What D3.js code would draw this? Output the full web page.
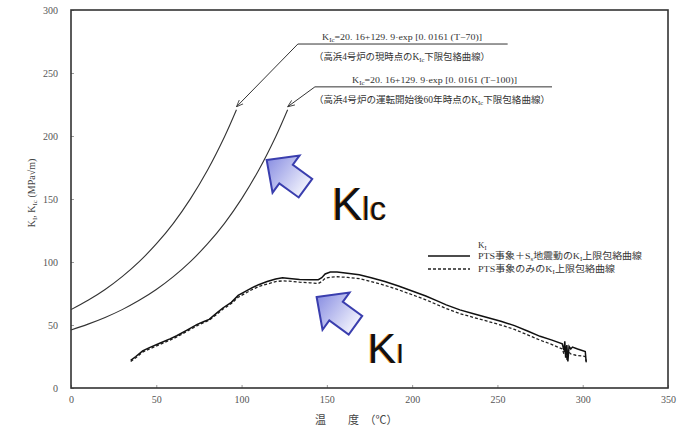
<!DOCTYPE html>
<html><head><meta charset="utf-8">
<script src="https://cdn.jsdelivr.net/npm/d3@7"></script>
<style>body{margin:0;background:#fff}</style>
</head><body>
<svg id="c" width="682" height="426"></svg>
<script>
// ---------- data ----------
const xTicks = [0, 50, 100, 150, 200, 250, 300, 350];
const yTicks = [0, 50, 100, 150, 200, 250, 300];
// KIc lower bound envelope, current (T-70)
const kicNow = [[0,62.2],[10,69.6],[20,78.2],[30,88.4],[40,100.3],[50,114.3],[60,130.7],[70,150.1],[80,172.8],[90,199.4],[97,220.8]];
// KIc lower bound envelope, 60 years (T-100)
const kic60 = [[0,46.1],[10,50.7],[20,56.0],[30,62.2],[40,69.6],[50,78.2],[60,88.4],[70,100.3],[80,114.3],[90,130.7],[100,150.1],[110,172.8],[120,199.4],[127,220.8]];
// KI upper envelope, PTS + Ss
const kiPtsSs = [[35,22],[38,25],[42,29.5],[46,32],[52,35.5],[58,39],[62,41.5],[68,46],[74,50.5],[78,52.8],[81,54.5],[85,59],[89,63.5],[94,68],[98,73.5],[102,76.5],[106,79.5],[110,82],[115,84.5],[120,86.5],[124,87.5],[128,87],[134,86.2],[140,86],[145,86],[147,87.5],[149,90.5],[152,92],[156,92],[162,91],[169,89.8],[176,87.5],[184,84.5],[192,81],[200,77],[208,73],[214,69.5],[220,66],[228,62],[236,59],[244,56],[252,53],[260,49.5],[268,45],[275,41],[282,38],[288,35],[289,30],[289.5,37],[290,24],[290.7,34],[291.3,21],[292,33],[293,31],[294,32.5],[297,31],[301.5,29],[302,21]];
// KI upper envelope, PTS only
const kiPts = [[35,21],[38,24],[42,28.5],[46,31],[52,34.5],[58,38],[62,40.5],[68,45],[74,49.5],[78,52],[81,53.8],[85,58],[89,62.5],[94,67],[98,72],[102,75],[106,78],[110,80.5],[115,82.5],[120,84.5],[124,85],[128,84.8],[134,84],[140,83.5],[145,83],[147,84.5],[149,87],[152,88],[156,88.3],[162,87.8],[169,86.8],[176,84.5],[184,81.5],[192,78],[200,74],[208,70],[214,66.5],[220,63],[228,59],[236,56],[244,53],[252,50],[260,46.5],[268,42],[275,38],[282,34.5],[288,31],[289,27],[290,33],[290.7,22],[291.5,29],[293,27],[296,26],[301.5,25],[302.3,19]];

const formulaNow = [{t:"K"},{t:"Ic",sub:true},{t:"=20. 16+129. 9·exp [0. 0161 (T−70)]"}];
const captionNow = [{t:"（高浜4号炉の現時点のK"},{t:"Ic",sub:true},{t:"下限包絡曲線）"}];
const formula60 = [{t:"K"},{t:"Ic",sub:true},{t:"=20. 16+129. 9·exp [0. 0161 (T−100)]"}];
const caption60 = [{t:"（高浜4号炉の運転開始後60年時点のK"},{t:"Ic",sub:true},{t:"下限包絡曲線）"}];
const legendTitle = [{t:"K"},{t:"I",sub:true}];
const legendSolid = [{t:"PTS事象＋S"},{t:"s",sub:true},{t:"地震動のK"},{t:"I",sub:true},{t:"上限包絡曲線"}];
const legendDashed = [{t:"PTS事象のみのK"},{t:"I",sub:true},{t:"上限包絡曲線"}];
const yTitle = [{t:"K"},{t:"I",sub:true},{t:",  K"},{t:"Ic",sub:true},{t:"  (MPa√m)"}];
const xTitle = "温　　度　（℃）";

// ---------- layout ----------
const W = 682, H = 426;
const m = {l:71, r:14, t:10, b:38};
const svg = d3.select("#c");
const x = d3.scaleLinear().domain([0,350]).range([m.l, W-m.r]);
const y = d3.scaleLinear().domain([0,300]).range([H-m.b, m.t]);
const serif = "'Liberation Serif','DejaVu Serif','Noto Sans CJK JP',serif";
const cjk = "'Liberation Serif','Noto Sans CJK JP',serif";

function richText(sel, segs, size){
  let subOn = false;
  segs.forEach(s=>{
    const ts = sel.append("tspan").text(s.t);
    if (s.sub && !subOn){ ts.attr("font-size", size*0.7).attr("dy", size*0.2); subOn = true; }
    else if (s.sub){ ts.attr("font-size", size*0.7); }
    else if (!s.sub && subOn){ ts.attr("dy", -size*0.2); subOn = false; }
  });
  return sel;
}

// defs
const defs = svg.append("defs");
defs.append("marker").attr("id","ah").attr("viewBox","0 0 10 10").attr("refX",10).attr("refY",5)
  .attr("markerWidth",7).attr("markerHeight",7).attr("orient","auto-start-reverse")
  .append("path").attr("d","M0,1 L10,5 L0,9").attr("fill","none").attr("stroke","#333").attr("stroke-width",1.2);
const grad = defs.append("linearGradient").attr("id","bg").attr("x1",0).attr("y1",0).attr("x2",1).attr("y2",0);
grad.append("stop").attr("offset","0%").attr("stop-color","#8a8fe2");
grad.append("stop").attr("offset","100%").attr("stop-color","#eff0fc");

// axes (inner ticks)
const gx = svg.append("g").attr("transform",`translate(0,${H-m.b})`)
  .call(d3.axisBottom(x).tickValues(xTicks).tickSize(-3).tickPadding(8).tickFormat(d3.format("d")));
const gy = svg.append("g").attr("transform",`translate(${m.l},0)`)
  .call(d3.axisLeft(y).tickValues(yTicks).tickSize(-3).tickPadding(13).tickFormat(d3.format("d")));
[gx,gy].forEach(g=>{
  g.select(".domain").remove();
  g.selectAll(".tick line").attr("stroke","#999");
  g.selectAll(".tick text").attr("font-family",serif).attr("font-size",10).attr("fill","#555");
});
// frame
svg.append("rect").attr("x",x(0)).attr("y",y(300)).attr("width",x(350)-x(0)).attr("height",y(0)-y(300))
  .attr("fill","none").attr("stroke","#333").attr("stroke-width",1.6);

// curves
const line = d3.line().x(d=>x(d[0])).y(d=>y(d[1]));
const smooth = d3.line().x(d=>x(d[0])).y(d=>y(d[1])).curve(d3.curveCatmullRom);
svg.append("path").datum(kicNow).attr("d",smooth).attr("fill","none").attr("stroke","#333").attr("stroke-width",1.1);
svg.append("path").datum(kic60).attr("d",smooth).attr("fill","none").attr("stroke","#333").attr("stroke-width",1.1);
svg.append("path").datum(kiPts).attr("d",line).attr("fill","none").attr("stroke","#222").attr("stroke-width",1.3).attr("stroke-dasharray","3,2");
svg.append("path").datum(kiPtsSs).attr("d",line).attr("fill","none").attr("stroke","#111").attr("stroke-width",1.5);

// callouts
function callout(data, elbow, endT, formula, caption, fW, cW, fX, cX){
  const tip = data[data.length-1];
  const pts = [[x(endT),y(elbow[1])],[x(elbow[0]),y(elbow[1])],[x(tip[0]),y(tip[1])-3]];
  svg.append("path").attr("d",d3.line()(pts)).attr("fill","none").attr("stroke","#333").attr("stroke-width",1)
    .attr("marker-end","url(#ah)");
  const t1 = svg.append("text").attr("x",fX).attr("y",y(elbow[1])-4).attr("font-family",cjk).attr("font-size",9).attr("fill","#333")
    .attr("textLength",fW).attr("lengthAdjust","spacingAndGlyphs");
  richText(t1, formula, 9);
  const t2 = svg.append("text").attr("x",cX).attr("y",y(elbow[1])+16).attr("font-family",cjk).attr("font-size",9.5).attr("fill","#333")
    .attr("textLength",cW).attr("lengthAdjust","spacingAndGlyphs");
  richText(t2, caption, 9.5);
}
callout(kicNow, [133,273], 256, formulaNow, captionNow, 160, 176, 322, 314);
callout(kic60, [143,239], 282, formula60, caption60, 165, 236, 352, 314);

// legend
const lg = svg.append("g").attr("font-family",cjk).attr("font-size",9).attr("fill","#333");
richText(lg.append("text").attr("x",478).attr("y",248), legendTitle, 9);
lg.append("line").attr("x1",428).attr("x2",470).attr("y1",256).attr("y2",256).attr("stroke","#111").attr("stroke-width",1.5);
lg.append("line").attr("x1",428).attr("x2",470).attr("y1",269).attr("y2",269).attr("stroke","#222").attr("stroke-width",1.3).attr("stroke-dasharray","3,2");
richText(lg.append("text").attr("x",478).attr("y",259).attr("textLength",164).attr("lengthAdjust","spacingAndGlyphs"), legendSolid, 9);
richText(lg.append("text").attr("x",478).attr("y",272).attr("textLength",137).attr("lengthAdjust","spacingAndGlyphs"), legendDashed, 9);

// axis titles
richText(svg.append("text").attr("transform","translate(35,193) rotate(-90)").attr("text-anchor","middle")
  .attr("font-family",cjk).attr("font-size",10).attr("fill","#444"), yTitle, 10);
svg.append("text").attr("x",315).attr("y",424).attr("font-family",cjk).attr("font-size",11).attr("fill","#444").text(xTitle);

// blue block arrows
function blockArrow(tipT, tipV){
  const g = svg.append("g").attr("transform",`translate(${x(tipT)},${y(tipV)}) rotate(36)`);
  g.append("path").attr("d","M0,0 L24,-23 L24,-11.5 L48,-11.5 L48,11.5 L24,11.5 L24,23 Z")
    .attr("fill","url(#bg)").attr("stroke","#3a3eae").attr("stroke-width",2).attr("stroke-linejoin","miter");
}
blockArrow(114.7, 181);
blockArrow(144, 72.2);

// big labels
function bigLabel(t, v, sub, kSize, sSize){
  [["#f0a040",-1],["#111",0]].forEach(([c,dx])=>{
    const tx = svg.append("text").attr("x",x(t)+dx).attr("y",y(v)).attr("font-family","'Liberation Sans',Arial,sans-serif").attr("fill",c);
    tx.append("tspan").attr("font-size",kSize).text("K");
    tx.append("tspan").attr("font-size",sSize).text(sub);
  });
}
bigLabel(152.8, 133, "lc", 46, 33);
bigLabel(173.8, 19.8, "I", 43, 28);
</script>
</body></html>
